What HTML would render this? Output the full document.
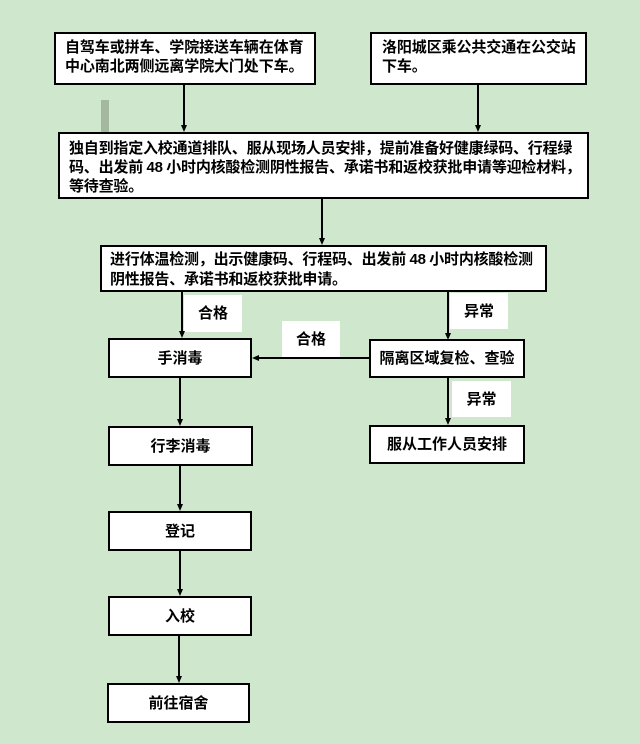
<!DOCTYPE html>
<html>
<head>
<meta charset="utf-8">
<style>
html,body{margin:0;padding:0;}
body{width:640px;height:744px;background:#cfe7cc;position:relative;overflow:hidden;
font-family:"Liberation Sans","Noto Sans CJK SC",sans-serif;font-weight:bold;font-size:15px;color:#000;}
.b{position:absolute;box-sizing:border-box;border:2px solid #000;background:#fff;white-space:nowrap;line-height:19px;}
.c{display:flex;align-items:center;justify-content:center;}
.lab{position:absolute;background:#fff;display:flex;align-items:center;justify-content:center;line-height:19px;}
svg{position:absolute;left:0;top:0;}
</style>
</head>
<body>
<div style="position:absolute;left:101px;top:100px;width:8px;height:32px;background:#a3b89f;"></div>

<div class="b" style="left:54px;top:32px;width:262px;height:53px;padding:4px 0 0 9px;letter-spacing:-0.1px;">自驾车或拼车、学院接送车辆在体育<br>中心南北两侧远离学院大门处下车。</div>
<div class="b" style="left:370px;top:32px;width:217px;height:53px;padding:4px 0 0 10px;letter-spacing:-0.1px;">洛阳城区乘公共交通在公交站<br>下车。</div>
<div class="b" style="left:58px;top:132px;width:531px;height:67px;padding:5px 0 0 9px;letter-spacing:-0.2px;word-spacing:-0.5px;">独自到指定入校通道排队、服从现场人员安排，提前准备好健康绿码、行程绿<br>码、出发前 48 小时内核酸检测阴性报告、承诺书和返校获批申请等迎检材料，<br>等待查验。</div>
<div class="b" style="left:100px;top:245px;width:447px;height:47px;padding:3px 0 0 8px;line-height:20px;letter-spacing:-0.2px;word-spacing:-0.5px;">进行体温检测，出示健康码、行程码、出发前 48 小时内核酸检测<br>阴性报告、承诺书和返校获批申请。</div>

<div class="b c" style="left:108px;top:338px;width:144px;height:40px;">手消毒</div>
<div class="b c" style="left:369px;top:339px;width:156px;height:39px;">隔离区域复检、查验</div>
<div class="b c" style="left:369px;top:425px;width:156px;height:39px;">服从工作人员安排</div>
<div class="b c" style="left:108px;top:426px;width:145px;height:40px;">行李消毒</div>
<div class="b c" style="left:108px;top:511px;width:144px;height:40px;">登记</div>
<div class="b c" style="left:108px;top:596px;width:144px;height:40px;">入校</div>
<div class="b c" style="left:107px;top:683px;width:143px;height:40px;">前往宿舍</div>

<div class="lab" style="left:184px;top:295px;width:58px;height:37px;">合格</div>
<div class="lab" style="left:450px;top:293px;width:58px;height:36px;">异常</div>
<div class="lab" style="left:282px;top:321px;width:58px;height:36px;">合格</div>
<div class="lab" style="left:452px;top:381px;width:59px;height:36px;">异常</div>

<svg width="640" height="744" viewBox="0 0 640 744">
<g stroke="#000" stroke-width="2" fill="none">
<line x1="184" y1="85" x2="184" y2="126"/>
<line x1="478" y1="85" x2="478" y2="126"/>
<line x1="322" y1="199" x2="322" y2="239"/>
<line x1="182" y1="292" x2="182" y2="332"/>
<line x1="448" y1="292" x2="448" y2="334"/>
<line x1="369" y1="358" x2="258" y2="358"/>
<line x1="448" y1="378" x2="448" y2="419"/>
<line x1="180" y1="378" x2="180" y2="420"/>
<line x1="180" y1="466" x2="180" y2="505"/>
<line x1="180" y1="551" x2="180" y2="590"/>
<line x1="179" y1="636" x2="179" y2="677"/>
</g>
<g fill="#000">
<polygon points="181,125 187,125 184,132"/>
<polygon points="475,125 481,125 478,132"/>
<polygon points="319,238 325,238 322,245"/>
<polygon points="179,331 185,331 182,338"/>
<polygon points="445,333 451,333 448,340"/>
<polygon points="259,355 259,361 252,358"/>
<polygon points="445,418 451,418 448,425"/>
<polygon points="177,419 183,419 180,426"/>
<polygon points="177,504 183,504 180,511"/>
<polygon points="177,589 183,589 180,596"/>
<polygon points="176,676 182,676 179,683"/>
</g>
</svg>
</body>
</html>
